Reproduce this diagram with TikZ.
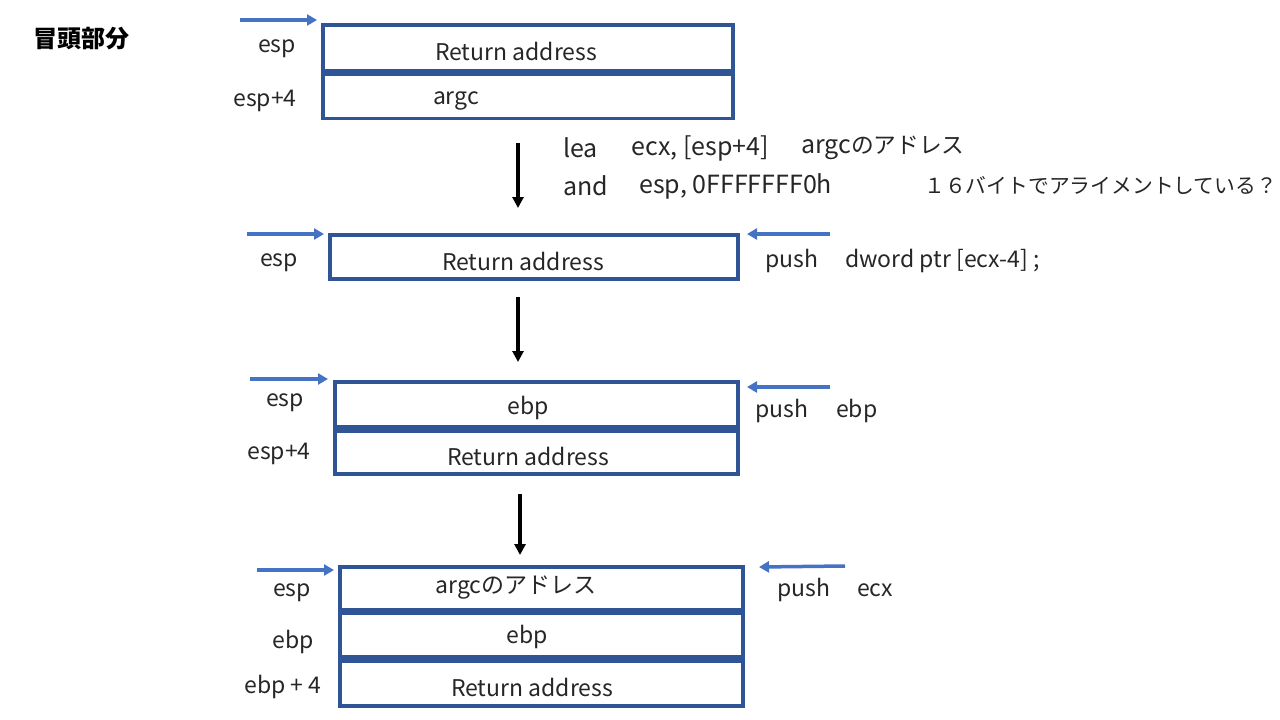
\documentclass[tikz,border=0pt]{standalone}
\usepackage{fontspec}
\setmainfont{Noto Sans CJK JP}
\newcommand{\jsm}{\fontsize{22.7}{25}\selectfont}
\newcommand{\jsn}{\fontsize{20.8}{24}\selectfont}
\usetikzlibrary{arrows.meta}
\definecolor{boxblue}{HTML}{2F5597}
\definecolor{arrblue}{HTML}{4472C4}
\tikzset{
  cell/.style={draw=boxblue, line width=3.5pt, minimum width=#1, inner sep=0pt},
  txt/.style={inner sep=0pt, font=\fontsize{23}{26}\selectfont, text=black!85},
  asm/.style={inner sep=0pt, anchor=west, font=\fontsize{25}{28}\selectfont, text=black!85},
  ptr/.style={draw=arrblue, line width=3.5pt, -{Triangle[length=10pt,width=11pt]}},
  down/.style={draw=black, line width=3.5pt, -{Triangle[length=11pt,width=11pt]}}
}
\begin{document}
\begin{tikzpicture}[x=1pt,y=-1pt]
\useasboundingbox (0,0) rectangle (1280,720);
% title
\node[inner sep=0pt, font=\bfseries\fontsize{24}{26}\selectfont] (title) at (82,39) {冒頭部分};
% box 1
\node[cell=410pt, minimum height=46pt] (b1a) at (528,48) {};
\node[cell=410pt, minimum height=44pt] (b1b) at (528,96.5) {};
\node[txt] (b1at) at (516,51) {Return address};
\node[txt] (b1bt) at (456,101) {argc};
\node[txt] (l1a) at (277,49) {esp};
\node[txt] (l1b) at (265,101) {esp+4};
\coordinate (p1s) at (240,20); \coordinate (p1e) at (317,20);
\draw[ptr] (p1s) -- (p1e);
% down arrow 1 and asm text
\coordinate (d1s) at (518,143); \coordinate (d1e) at (518,208);
\draw[down] (d1s) -- (d1e);
\node[asm] (a1) at (563,148) {lea};
\node[asm] (a2) at (631,148) {ecx, [esp+4]};
\node[asm] (a3) at (801,148) {argc{\jsm のアドレス}};
\node[asm] (a4) at (563,186) {and};
\node[asm] (a5) at (639,186) {esp, 0FFFFFFF0h};
\node[asm] (a6) at (924,186) {\jsn １６バイトでアライメントしている？};
% box 2
\node[cell=408pt, minimum height=44pt] (b2a) at (534,257) {};
\node[txt] (b2at) at (523,261) {Return address};
\node[txt] (l2a) at (279,263) {esp};
\coordinate (p2s) at (247,234); \coordinate (p2e) at (324,234);
\draw[ptr] (p2s) -- (p2e);
\coordinate (q2s) at (830,234); \coordinate (q2e) at (747,234);
\draw[ptr] (q2s) -- (q2e);
\node[txt, anchor=west] (c2a) at (765,261) {push};
\node[txt, anchor=west] (c2b) at (845,261) {dword ptr [ecx-4] ;};
% down arrow 2
\coordinate (d2s) at (518,297); \coordinate (d2e) at (518,362);
\draw[down] (d2s) -- (d2e);
% box 3
\node[cell=403pt, minimum height=45pt] (b3a) at (536.5,404.5) {};
\node[cell=403pt, minimum height=43pt] (b3b) at (536.5,452.5) {};
\node[txt] (b3at) at (528,408) {ebp};
\node[txt] (b3bt) at (528,456) {Return address};
\node[txt] (l3a) at (285,403) {esp};
\node[txt] (l3b) at (279,454) {esp+4};
\coordinate (p3s) at (250,379); \coordinate (p3e) at (328,379);
\draw[ptr] (p3s) -- (p3e);
\coordinate (q3s) at (830,387); \coordinate (q3e) at (747,387);
\draw[ptr] (q3s) -- (q3e);
\node[txt, anchor=west] (c3a) at (755,411) {push};
\node[txt, anchor=west] (c3b) at (836,411) {ebp};
% down arrow 3
\coordinate (d3s) at (520,494); \coordinate (d3e) at (520,555);
\draw[down] (d3s) -- (d3e);
% box 4
\node[cell=403pt, minimum height=43pt] (b4a) at (541.5,588.5) {};
\node[cell=403pt, minimum height=44pt] (b4b) at (541.5,635) {};
\node[cell=403pt, minimum height=45pt] (b4c) at (541.5,683.5) {};
\node[txt] (b4at) at (516,588) {argcのアドレス};
\node[txt] (b4bt) at (527,637) {ebp};
\node[txt] (b4ct) at (532,687) {Return address};
\node[txt] (l4a) at (292,593) {esp};
\node[txt] (l4b) at (293,642) {ebp};
\node[txt] (l4c) at (283,687) {ebp + 4};
\coordinate (p4s) at (257,570); \coordinate (p4e) at (334,570);
\draw[ptr] (p4s) -- (p4e);
\coordinate (q4s) at (845,566); \coordinate (q4e) at (759,567);
\draw[ptr] (q4s) -- (q4e);
\node[txt, anchor=west] (c4a) at (777,590) {push};
\node[txt, anchor=west] (c4b) at (857,590) {ecx};
\end{tikzpicture}
\end{document}
